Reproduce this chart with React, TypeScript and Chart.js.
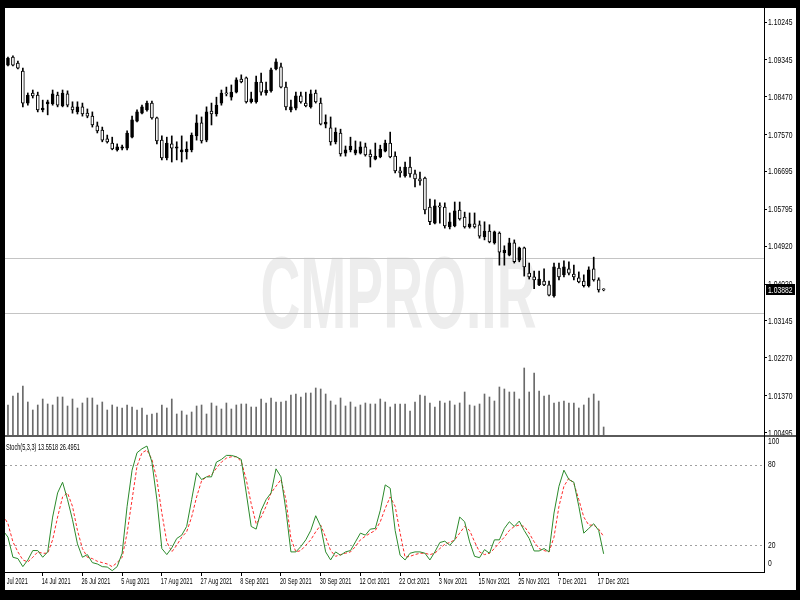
import React, { useEffect, useRef } from 'react';
import { Chart, registerables } from 'chart.js';

Chart.register(...registerables);

// ---------- data ----------
const tickLabels = [
  '2 Jul 2021', '14 Jul 2021', '26 Jul 2021', '5 Aug 2021', '17 Aug 2021', '27 Aug 2021',
  '8 Sep 2021', '20 Sep 2021', '30 Sep 2021', '12 Oct 2021', '22 Oct 2021', '3 Nov 2021',
  '15 Nov 2021', '25 Nov 2021', '7 Dec 2021', '17 Dec 2021',
];
const barsPerLabel = 8;

const priceTicks = [
  1.10245, 1.09345, 1.0847, 1.0757, 1.06695, 1.05795, 1.0492, 1.0402, 1.03145, 1.0227, 1.0137, 1.00495,
];
const horizontalLevels = [1.0464, 1.0333];
const stochLevels = [20, 80];
const stochAxisLabels = [100, 80, 20, 0];
const watermark = 'CMPRO.IR';

const open = [1.0935,
  1.0922, 1.0941, 1.0927, 1.0908, 1.0832, 1.0856, 1.0851, 1.0816, 1.0830, 1.0830,
  1.0851, 1.0825, 1.0854, 1.0823, 1.0811, 1.0823, 1.0808, 1.0801, 1.0778, 1.0768,
  1.0747, 1.0737, 1.0721, 1.0725, 1.0725, 1.0751, 1.0789, 1.0808, 1.0816, 1.0832,
  1.0797, 1.0744, 1.0702, 1.0735, 1.0725, 1.0716, 1.0716, 1.0721, 1.0754, 1.0785,
  1.0744, 1.0813, 1.0806, 1.0832, 1.0856, 1.0846, 1.0858, 1.0889, 1.0892, 1.0835,
  1.0835, 1.0882, 1.0856, 1.0861, 1.0913, 1.0918, 1.0870, 1.0816, 1.0820, 1.0849,
  1.0832, 1.0823, 1.0856, 1.0832, 1.0782, 1.0773, 1.0740, 1.0761, 1.0713, 1.0721,
  1.0713, 1.0713, 1.0728, 1.0711, 1.0699, 1.0704, 1.0718, 1.0737, 1.0706, 1.0671,
  1.0659, 1.0680, 1.0664, 1.0652, 1.0654, 1.0585, 1.0547, 1.0588, 1.0585, 1.0538,
  1.0540, 1.0578, 1.0561, 1.0538, 1.0545, 1.0543, 1.0514, 1.0528, 1.0500, 1.0523,
  1.0476, 1.0471, 1.0500, 1.0459, 1.0488, 1.0428, 1.0419, 1.0400, 1.0409, 1.0400,
  1.0374, 1.0440, 1.0424, 1.0438, 1.0426, 1.0417, 1.0409, 1.0398, 1.0438, 1.0412,
  1.0390];

const high = [1.0946,
  1.0941, 1.0944, 1.0932, 1.0915, 1.0856, 1.0863, 1.0858, 1.0839, 1.0839, 1.0863,
  1.0858, 1.0863, 1.0861, 1.0835, 1.0835, 1.0832, 1.0818, 1.0811, 1.0787, 1.0775,
  1.0756, 1.0751, 1.0735, 1.0732, 1.0766, 1.0801, 1.0816, 1.0827, 1.0837, 1.0837,
  1.0799, 1.0754, 1.0751, 1.0754, 1.0740, 1.0754, 1.0740, 1.0761, 1.0804, 1.0799,
  1.0823, 1.0832, 1.0846, 1.0863, 1.0870, 1.0875, 1.0892, 1.0899, 1.0894, 1.0858,
  1.0896, 1.0903, 1.0882, 1.0915, 1.0937, 1.0927, 1.0882, 1.0839, 1.0858, 1.0858,
  1.0858, 1.0863, 1.0863, 1.0844, 1.0804, 1.0799, 1.0773, 1.0770, 1.0730, 1.0751,
  1.0742, 1.0740, 1.0737, 1.0721, 1.0737, 1.0732, 1.0744, 1.0763, 1.0716, 1.0680,
  1.0692, 1.0704, 1.0673, 1.0668, 1.0656, 1.0604, 1.0602, 1.0595, 1.0595, 1.0571,
  1.0597, 1.0597, 1.0573, 1.0571, 1.0571, 1.0552, 1.0550, 1.0543, 1.0528, 1.0526,
  1.0493, 1.0511, 1.0507, 1.0490, 1.0490, 1.0452, 1.0433, 1.0433, 1.0438, 1.0409,
  1.0452, 1.0452, 1.0457, 1.0455, 1.0447, 1.0431, 1.0424, 1.0443, 1.0466, 1.0417,
  1.0391];

const low = [1.0930,
  1.0920, 1.0920, 1.0913, 1.0823, 1.0827, 1.0844, 1.0811, 1.0811, 1.0804, 1.0827,
  1.0823, 1.0823, 1.0823, 1.0808, 1.0806, 1.0801, 1.0797, 1.0775, 1.0761, 1.0740,
  1.0737, 1.0721, 1.0718, 1.0721, 1.0721, 1.0749, 1.0787, 1.0806, 1.0813, 1.0794,
  1.0735, 1.0697, 1.0697, 1.0692, 1.0697, 1.0692, 1.0699, 1.0716, 1.0744, 1.0737,
  1.0740, 1.0780, 1.0801, 1.0827, 1.0849, 1.0839, 1.0856, 1.0880, 1.0832, 1.0832,
  1.0832, 1.0851, 1.0851, 1.0858, 1.0911, 1.0868, 1.0816, 1.0811, 1.0816, 1.0832,
  1.0823, 1.0820, 1.0832, 1.0780, 1.0773, 1.0732, 1.0735, 1.0706, 1.0706, 1.0716,
  1.0709, 1.0711, 1.0706, 1.0680, 1.0697, 1.0702, 1.0716, 1.0702, 1.0666, 1.0656,
  1.0656, 1.0656, 1.0633, 1.0637, 1.0569, 1.0543, 1.0545, 1.0547, 1.0535, 1.0533,
  1.0538, 1.0554, 1.0535, 1.0535, 1.0535, 1.0511, 1.0507, 1.0500, 1.0497, 1.0447,
  1.0447, 1.0469, 1.0452, 1.0455, 1.0421, 1.0414, 1.0391, 1.0398, 1.0398, 1.0374,
  1.0371, 1.0412, 1.0419, 1.0424, 1.0412, 1.0405, 1.0395, 1.0395, 1.0409, 1.0383,
  1.0386];

const close = [1.0941,
  1.0939, 1.0922, 1.0915, 1.0832, 1.0851, 1.0849, 1.0816, 1.0820, 1.0835, 1.0854,
  1.0827, 1.0856, 1.0827, 1.0816, 1.0823, 1.0806, 1.0801, 1.0780, 1.0766, 1.0744,
  1.0740, 1.0723, 1.0728, 1.0728, 1.0761, 1.0792, 1.0811, 1.0823, 1.0832, 1.0797,
  1.0742, 1.0702, 1.0737, 1.0725, 1.0728, 1.0721, 1.0723, 1.0756, 1.0785, 1.0742,
  1.0811, 1.0806, 1.0827, 1.0856, 1.0854, 1.0858, 1.0887, 1.0882, 1.0835, 1.0842,
  1.0882, 1.0858, 1.0863, 1.0911, 1.0930, 1.0870, 1.0823, 1.0823, 1.0849, 1.0835,
  1.0825, 1.0854, 1.0835, 1.0782, 1.0787, 1.0740, 1.0763, 1.0711, 1.0721, 1.0730,
  1.0721, 1.0728, 1.0709, 1.0704, 1.0706, 1.0723, 1.0737, 1.0704, 1.0671, 1.0666,
  1.0680, 1.0664, 1.0652, 1.0647, 1.0578, 1.0550, 1.0588, 1.0585, 1.0540, 1.0550,
  1.0576, 1.0557, 1.0538, 1.0545, 1.0538, 1.0516, 1.0528, 1.0502, 1.0526, 1.0478,
  1.0483, 1.0500, 1.0455, 1.0488, 1.0443, 1.0419, 1.0412, 1.0414, 1.0400, 1.0376,
  1.0443, 1.0419, 1.0443, 1.0428, 1.0419, 1.0407, 1.0398, 1.0436, 1.0412, 1.0388,
  1.03882];

// tick volume, thousands
const volumeK = [35,
  30, 39, 42, 49, 33, 25, 30, 36, 31, 30,
  38, 38, 29, 36, 27, 32, 37, 37, 30, 33,
  25, 30, 28, 27, 30, 28, 25, 27, 20, 21,
  22, 30, 27, 36, 21, 24, 20, 23, 29, 30,
  21, 32, 29, 26, 32, 26, 30, 31, 31, 28,
  28, 36, 32, 37, 33, 33, 34, 40, 41, 38,
  42, 42, 47, 46, 41, 34, 30, 37, 29, 33,
  28, 30, 32, 31, 31, 36, 33, 28, 31, 31,
  31, 24, 33, 40, 39, 32, 28, 34, 32, 34,
  30, 32, 43, 30, 29, 31, 41, 38, 34, 48,
  46, 43, 43, 36, 67, 43, 62, 44, 39, 40,
  32, 33, 34, 32, 32, 27, 30, 37, 41, 34,
  8];

const stochK = [31,
  26, 11, 10, 4, 9, 16, 16, 11, 15, 41,
  59, 67, 54, 39, 21, 11, 13, 7, 6, 4,
  3.7, 1, 4, 14, 49, 76, 89, 92, 94, 82,
  54, 17.5, 13, 18, 25, 27.5, 34, 54, 74, 69,
  71, 71, 82, 84, 87, 87, 86, 84, 59, 34,
  32, 46, 54, 59, 77, 71, 46, 15, 15, 19,
  24, 31, 42, 34, 15, 9, 15, 12.5, 15, 16,
  22.5, 29, 27.5, 32, 32.5, 46, 65, 62.5, 31, 12.5,
  9, 14, 15, 15, 14, 9, 15, 22, 23, 20,
  24, 41, 37.5, 22.5, 11.7, 10.7, 16.7, 14, 24, 24,
  32.5, 37.5, 34, 38, 31, 25, 15.7, 15.7, 17.5, 15,
  44, 64, 76, 69, 67, 49, 29, 32.5, 36, 31,
  13.5518];

const stochD = [42.5,
  36, 22.5, 15, 9, 7.5, 11, 15, 14, 14, 24,
  41, 56, 59, 49, 31, 17.5, 11, 10, 8, 7,
  6, 4, 7, 11, 29, 54, 79, 89, 91, 84,
  69, 44, 22.5, 15, 20, 26, 30, 41, 56, 68,
  71, 72.5, 77.5, 82, 85, 86, 86, 82.5, 69, 51,
  36, 41, 49, 59, 64, 69, 54, 25, 15, 16,
  20, 24, 30, 35, 26, 16, 11.7, 13, 14, 15,
  19, 24, 26.7, 29, 31, 37.5, 47.5, 56, 49, 29,
  11, 11.7, 13, 14, 14, 13, 14, 17.5, 20.7, 22,
  24, 29, 34, 31, 22.5, 15, 13, 14, 17.5, 22,
  26, 31, 34, 35, 34, 29, 22.5, 17.5, 16, 15,
  26, 49, 64, 70, 66, 54, 41, 35, 35, 32,
  26.4951];

// ---------- layout ----------
const FONT = "'Liberation Sans', Arial, sans-serif";
const TEXT_FONT = `9px ${FONT}`;
const NUM_SCALE = 0.75;   // horizontal squeeze of the axis numbers
const TEXT_SCALE = 0.62;  // horizontal squeeze of dates and indicator caption
const CANVAS_W = 796;
const MAIN_H = 427;
const STOCH_H = 155;
const AXIS_W = 32;
const BAR_PX = 4.964;
const X_MIN = -3 / BAR_PX;
const X_MAX = X_MIN + (CANVAS_W - AXIS_W) / BAR_PX;
const PRICE_MIN = 1.00436;
const PRICE_MAX = 1.10578;
const VOL_MAX = 427;

const idx = open.map((_, i) => i);

function squeezedText(ctx: any, text: string, x: number, y: number, sx: number) {
  ctx.save();
  ctx.translate(x, y);
  ctx.scale(sx, 1);
  ctx.textAlign = 'left';
  ctx.textBaseline = 'middle';
  ctx.fillText(text, 0, 0);
  ctx.restore();
}

const mainPlugin: any = {
  id: 'mainDecor',
  beforeDatasetsDraw(chart: any) {
    const { ctx, chartArea: a, scales } = chart;
    const y = scales.y;
    ctx.save();
    ctx.font = `bold 102px ${FONT}`;
    const w = ctx.measureText(watermark).width;
    ctx.translate(398.5, 320);
    ctx.scale(276 / w, 1);
    ctx.fillStyle = '#ededed';
    ctx.textAlign = 'center';
    ctx.textBaseline = 'alphabetic';
    ctx.fillText(watermark, 0, 0);
    ctx.restore();

    ctx.save();
    ctx.strokeStyle = '#c4c4c4';
    ctx.lineWidth = 1;
    horizontalLevels.forEach((v) => {
      const py = Math.round(y.getPixelForValue(v)) + 0.5;
      ctx.beginPath();
      ctx.moveTo(a.left, py);
      ctx.lineTo(a.right, py);
      ctx.stroke();
    });
    ctx.restore();
  },
  afterDraw(chart: any) {
    const { ctx, chartArea: a, scales } = chart;
    const y = scales.y;
    ctx.save();
    ctx.font = TEXT_FONT;
    ctx.fillStyle = '#000';
    y.ticks.forEach((t: any) => {
      squeezedText(ctx, t.value.toFixed(5), a.right + 4, y.getPixelForValue(t.value) + 0.5, NUM_SCALE);
    });
    const last = close[close.length - 1];
    const py = y.getPixelForValue(last);
    ctx.fillRect(a.right + 2, Math.round(py - 5.5), 29, 11);
    ctx.fillStyle = '#fff';
    squeezedText(ctx, last.toFixed(5), a.right + 4, py + 0.5, NUM_SCALE);
    ctx.restore();
  },
};

const stochPlugin: any = {
  id: 'stochDecor',
  beforeDatasetsDraw(chart: any) {
    const { ctx, chartArea: a, scales } = chart;
    ctx.save();
    ctx.strokeStyle = '#a0a0a0';
    ctx.lineWidth = 1;
    ctx.setLineDash([2, 3]);
    stochLevels.forEach((v) => {
      const py = Math.round(scales.y.getPixelForValue(v)) + 0.5;
      ctx.beginPath();
      ctx.moveTo(a.left, py);
      ctx.lineTo(a.right, py);
      ctx.stroke();
    });
    ctx.restore();
  },
  afterDraw(chart: any) {
    const { ctx, chartArea: a, scales } = chart;
    ctx.save();
    ctx.fillStyle = '#5a5a5a';
    ctx.fillRect(0, 0, chart.width, 2);
    ctx.fillStyle = '#000';
    ctx.fillRect(a.right, 0, 1, a.top + 1);
    ctx.font = TEXT_FONT;
    stochAxisLabels.forEach((v) => {
      const raw = scales.y.getPixelForValue(v);
      const py = Math.min(Math.max(raw, a.top + 4), a.bottom - 8);
      squeezedText(ctx, String(v), a.right + 4, py, NUM_SCALE);
    });
    const title = `Stoch(5,3,3) ${stochK[stochK.length - 1].toFixed(4)} ${stochD[stochD.length - 1].toFixed(4)}`;
    squeezedText(ctx, title, 6, a.top + 10, TEXT_SCALE);
    scales.x.ticks.forEach((t: any, i: number) => {
      squeezedText(ctx, tickLabels[i], scales.x.getPixelForValue(t.value) - 1, a.bottom + 10, TEXT_SCALE);
    });
    ctx.restore();
  },
};

function mainConfig(): any {
  return {
    type: 'bar',
    data: {
      datasets: [
        {
          label: 'body',
          data: idx.map((i) => ({ x: i, y: [open[i], close[i]] })),
          backgroundColor: idx.map((i) => (close[i] >= open[i] ? '#000000' : '#ffffff')),
          borderColor: '#000000',
          borderWidth: 1,
          borderSkipped: false,
          barThickness: 3,
          minBarLength: 1,
          grouped: false,
          order: 0,
          yAxisID: 'y',
        },
        {
          label: 'wick',
          data: idx.map((i) => ({ x: i, y: [low[i], high[i]] })),
          backgroundColor: '#000000',
          barThickness: 1,
          grouped: false,
          order: 1,
          yAxisID: 'y',
        },
        {
          label: 'volume',
          data: idx.map((i) => ({ x: i, y: volumeK[i] })),
          backgroundColor: '#6a6a6a',
          barThickness: 1,
          grouped: false,
          order: 2,
          yAxisID: 'yv',
        },
      ],
    },
    options: {
      animation: false,
      responsive: false,
      devicePixelRatio: 1,
      events: [],
      layout: { padding: 0 },
      plugins: { legend: { display: false }, tooltip: { enabled: false } },
      scales: {
        x: { type: 'linear', min: X_MIN, max: X_MAX, offset: false, display: false, grid: { offset: false } },
        y: {
          position: 'right',
          min: PRICE_MIN,
          max: PRICE_MAX,
          afterBuildTicks: (s: any) => {
            s.ticks = priceTicks.map((v) => ({ value: v }));
          },
          afterFit: (s: any) => {
            s.width = AXIS_W;
            s.paddingTop = 0;
            s.paddingBottom = 0;
          },
          ticks: { display: false, autoSkip: false },
          grid: { drawOnChartArea: false, drawTicks: true, tickLength: 3, color: '#000' },
          border: { display: true, color: '#000', width: 1 },
        },
        yv: { display: false, min: 0, max: VOL_MAX },
      },
    },
    plugins: [mainPlugin],
  };
}

function stochConfig(): any {
  return {
    type: 'line',
    data: {
      datasets: [
        {
          label: '%K',
          data: idx.map((i) => ({ x: i, y: stochK[i] })),
          borderColor: '#2b8a2b',
          borderWidth: 1,
          pointRadius: 0,
          tension: 0,
          fill: false,
        },
        {
          label: '%D',
          data: idx.map((i) => ({ x: i, y: stochD[i] })),
          borderColor: '#ff2a2a',
          borderWidth: 1,
          borderDash: [3, 2],
          pointRadius: 0,
          tension: 0,
          fill: false,
        },
      ],
    },
    options: {
      animation: false,
      responsive: false,
      devicePixelRatio: 1,
      events: [],
      layout: { padding: { top: 3, left: 0, right: 0, bottom: 0 } },
      plugins: { legend: { display: false }, tooltip: { enabled: false } },
      scales: {
        x: {
          type: 'linear',
          min: X_MIN,
          max: X_MAX,
          offset: false,
          afterBuildTicks: (s: any) => {
            s.ticks = tickLabels.map((_, i) => ({ value: i * barsPerLabel }));
          },
          afterFit: (s: any) => {
            s.height = 18;
            s.paddingLeft = 0;
            s.paddingRight = 0;
          },
          ticks: { display: false, autoSkip: false, maxRotation: 0, minRotation: 0 },
          grid: { drawOnChartArea: false, drawTicks: true, tickLength: 4, color: '#000', offset: false },
          border: { display: true, color: '#000', width: 1 },
        },
        y: {
          position: 'right',
          min: 0,
          max: 100,
          ticks: { display: false },
          grid: { display: true, drawOnChartArea: false, drawTicks: false },
          border: { display: true, color: '#000', width: 1 },
          afterFit: (s: any) => {
            s.width = AXIS_W;
            s.paddingTop = 0;
            s.paddingBottom = 0;
          },
        },
      },
    },
    plugins: [stochPlugin],
  };
}

export default function App() {
  const mainRef = useRef<HTMLCanvasElement>(null);
  const stochRef = useRef<HTMLCanvasElement>(null);

  useEffect(() => {
    const main = new Chart(mainRef.current as HTMLCanvasElement, mainConfig());
    const stoch = new Chart(stochRef.current as HTMLCanvasElement, stochConfig());
    return () => {
      main.destroy();
      stoch.destroy();
    };
  }, []);

  const black = '#000';
  return (
    <div style={{ position: 'fixed', left: 0, top: 0, width: 800, height: 600, background: '#fff', overflow: 'hidden' }}>
      <canvas ref={mainRef} width={CANVAS_W} height={MAIN_H}
        style={{ position: 'absolute', left: 0, top: 8, width: CANVAS_W, height: MAIN_H }} />
      <canvas ref={stochRef} width={CANVAS_W} height={STOCH_H}
        style={{ position: 'absolute', left: 0, top: 435, width: CANVAS_W, height: STOCH_H }} />
      <div style={{ position: 'absolute', left: 0, top: 0, width: 800, height: 8, background: black }} />
      <div style={{ position: 'absolute', left: 0, top: 0, width: 5, height: 600, background: black }} />
      <div style={{ position: 'absolute', left: 796, top: 0, width: 4, height: 600, background: black }} />
      <div style={{ position: 'absolute', left: 0, top: 590, width: 800, height: 10, background: black }} />
    </div>
  );
}
